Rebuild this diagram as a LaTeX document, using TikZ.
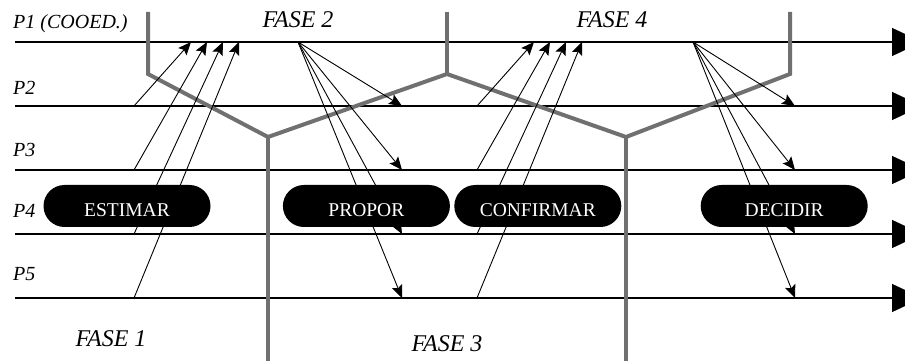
\documentclass[tikz,border=0pt]{standalone}
\usepackage{fontspec}
\setmainfont{Liberation Serif}
\usetikzlibrary{positioning,arrows.meta}
\definecolor{cinza}{RGB}{112,112,112}

\begin{document}
\begin{tikzpicture}[x=1pt, y=-1pt,
  lane/.style={line width=1.3pt, -{Triangle[length=30pt,width=28pt]}},
  msg/.style={line width=0.9pt, -{Stealth[length=13pt,width=11pt,inset=2.5pt]}},
  fronteira/.style={draw=cinza, line width=4pt},
  etapa/.style={fill=black, rounded corners=21pt, minimum width=167pt, minimum height=42pt,
    text=white, font=\fontsize{19.5}{20}\selectfont, text height=22pt, text depth=0pt},
  papel/.style={anchor=base west, inner sep=0pt, font=\fontsize{20}{22}\selectfont\itshape},
  fase/.style={anchor=base, inner sep=0pt, font=\fontsize{24}{26}\selectfont\itshape}]
  \useasboundingbox (0,0) rectangle (905,363);

  % raias dos participantes
  \foreach \i/\y in {1/42,2/106,3/170,4/234,5/298}{
    \coordinate (ini\i) at (15,\y);
    \coordinate (fim\i) at (922,\y);
    \draw[lane] (ini\i) -- (fim\i);
  }
  \node[papel] (lp1) at (13,29) {P1 (COOED.)};
  \node[papel] (lp2) at (13,95) {P2};
  \node[papel] (lp3) at (13,157) {P3};
  \node[papel] (lp4) at (13,218) {P4};
  \node[papel] (lp5) at (13,281) {P5};

  % fronteiras entre as fases
  \draw[fronteira] (148,12) -- (148,74) -- (268,137) -- (447,74) -- (626,137) -- (790,74) -- (790,12);
  \draw[fronteira] (447,12) -- (447,74);
  \draw[fronteira] (268,137) -- (268,361);
  \draw[fronteira] (626,137) -- (626,361);

  % mensagens
  \coordinate (f2a) at (298,42);
  \coordinate (f4a) at (693,42);
  \foreach \i/\y/\x in {2/106/0,3/170/16,4/234/32,5/298/48}{
    \coordinate (f1a\i) at (134,\y);
    \coordinate (f1b\i) at (191+\x,42);
    \coordinate (f3a\i) at (477,\y);
    \coordinate (f3b\i) at (534+\x,42);
    \coordinate (f2b\i) at (402,\y);
    \coordinate (f4b\i) at (795,\y);
    \draw[msg] (f1a\i) -- (f1b\i);
    \draw[msg] (f3a\i) -- (f3b\i);
    \draw[msg] (f2a) -- (f2b\i);
    \draw[msg] (f4a) -- (f4b\i);
  }

  \node[etapa] (estimar) at (127,206) {ESTIMAR};
  \node[etapa, right=72pt of estimar] (propor) {PROPOR};
  \node[etapa, right=4pt of propor] (confirmar) {CONFIRMAR};
  \node[etapa, right=79pt of confirmar] (decidir) {DECIDIR};

  \node[fase] (fase1) at (111,347) {FASE 1};
  \node[fase] (fase2) at (298,28) {FASE 2};
  \node[fase] (fase3) at (447,352) {FASE 3};
  \node[fase] (fase4) at (612,28) {FASE 4};
\end{tikzpicture}
\end{document}
